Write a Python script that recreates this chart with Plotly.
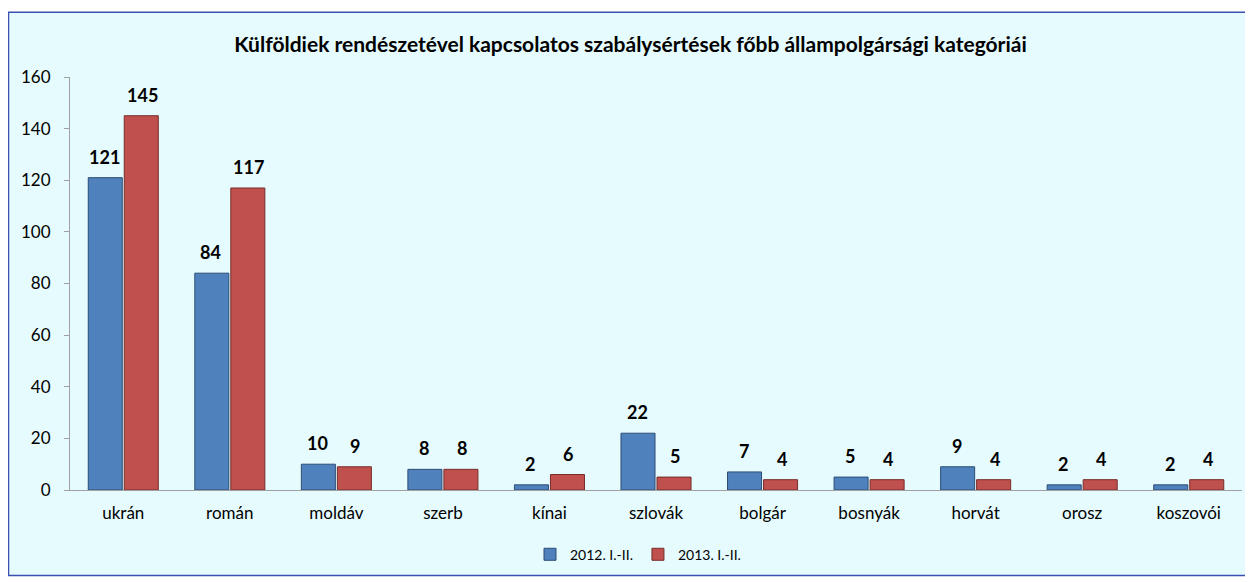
import plotly.graph_objects as go

categories = ["ukrán", "román", "moldáv", "szerb", "kínai", "szlovák", "bolgár", "bosnyák", "horvát", "orosz", "koszovói"]
series_2012 = [121, 84, 10, 8, 2, 22, 7, 5, 9, 2, 2]
series_2013 = [145, 117, 9, 8, 6, 5, 4, 4, 4, 4, 4]
series_names = ["2012. I.-II.", "2013. I.-II."]
y_ticks = [0, 20, 40, 60, 80, 100, 120, 140, 160]
title_text = "Külföldiek rendészetével kapcsolatos szabálysértések főbb állampolgársági kategóriái"

font_family = "Lato, 'Open Sans', sans-serif"

W, H = 1245, 574
L, R, T, B = 62, 11, 69, 90
PW, PH = W - L - R, H - T - B

fig = go.Figure()
fig.add_trace(go.Bar(
    x=categories, y=series_2012, name=series_names[0],
    marker=dict(color="#4F81BD", line=dict(color="#2C4D75", width=1)),
))
fig.add_trace(go.Bar(
    x=categories, y=series_2013, name=series_names[1],
    marker=dict(color="#C0504D", line=dict(color="#772C2A", width=1)),
))

annotations = []
for vals, shift in ((series_2012, -19), (series_2013, 19)):
    for c, v in zip(categories, vals):
        annotations.append(dict(
            x=c, y=v, xref="x", yref="y", text="<b>%d</b>" % v, showarrow=False,
            xshift=shift, yshift=8, yanchor="bottom", xanchor="center",
            font=dict(family=font_family, size=18, color="black")))

fig.update_layout(
    width=W, height=H,
    paper_bgcolor="white", plot_bgcolor="rgba(0,0,0,0)",
    margin=dict(l=L, r=R, t=T, b=B),
    barmode="group", bargap=0.324, bargroupgap=0.055,
    font=dict(family=font_family, size=17, color="black"),
    title=dict(text="<b>" + title_text + "</b>", x=0.5, xref="container", xanchor="center",
               y=1 - 37 / H, yref="container", yanchor="middle",
               font=dict(family=font_family, size=21, color="black")),
    legend=dict(orientation="h", x=(630 - L) / PW, xanchor="center", y=-(549 - (H - B)) / PH,
                yanchor="middle",
                font=dict(family=font_family, size=14, color="black"),
                bgcolor="rgba(0,0,0,0)", itemwidth=30, traceorder="normal"),
    showlegend=True,
    annotations=annotations,
    shapes=[dict(type="rect", xref="paper", yref="paper", layer="below",
                 x0=(0.5 - L) / PW, x1=(1240 - L) / PW,
                 y0=-(570 - (H - B)) / PH, y1=(H - B - 4) / PH,
                 fillcolor="#E6FBFD", line=dict(color="#3A4FB0", width=1.5))],
    xaxis=dict(showgrid=False, showline=True, linecolor="#A0A0A0", linewidth=1,
               ticks="", tickfont=dict(size=17), ticklabelstandoff=8, fixedrange=True),
    yaxis=dict(range=[0, 160], tickvals=y_ticks, showgrid=False, showline=True,
               linecolor="#A0A0A0", linewidth=1, ticks="outside", ticklen=5,
               tickcolor="#A0A0A0", tickfont=dict(size=17), ticklabelstandoff=10,
               zeroline=False),
)

fig.write_html("out.html")
